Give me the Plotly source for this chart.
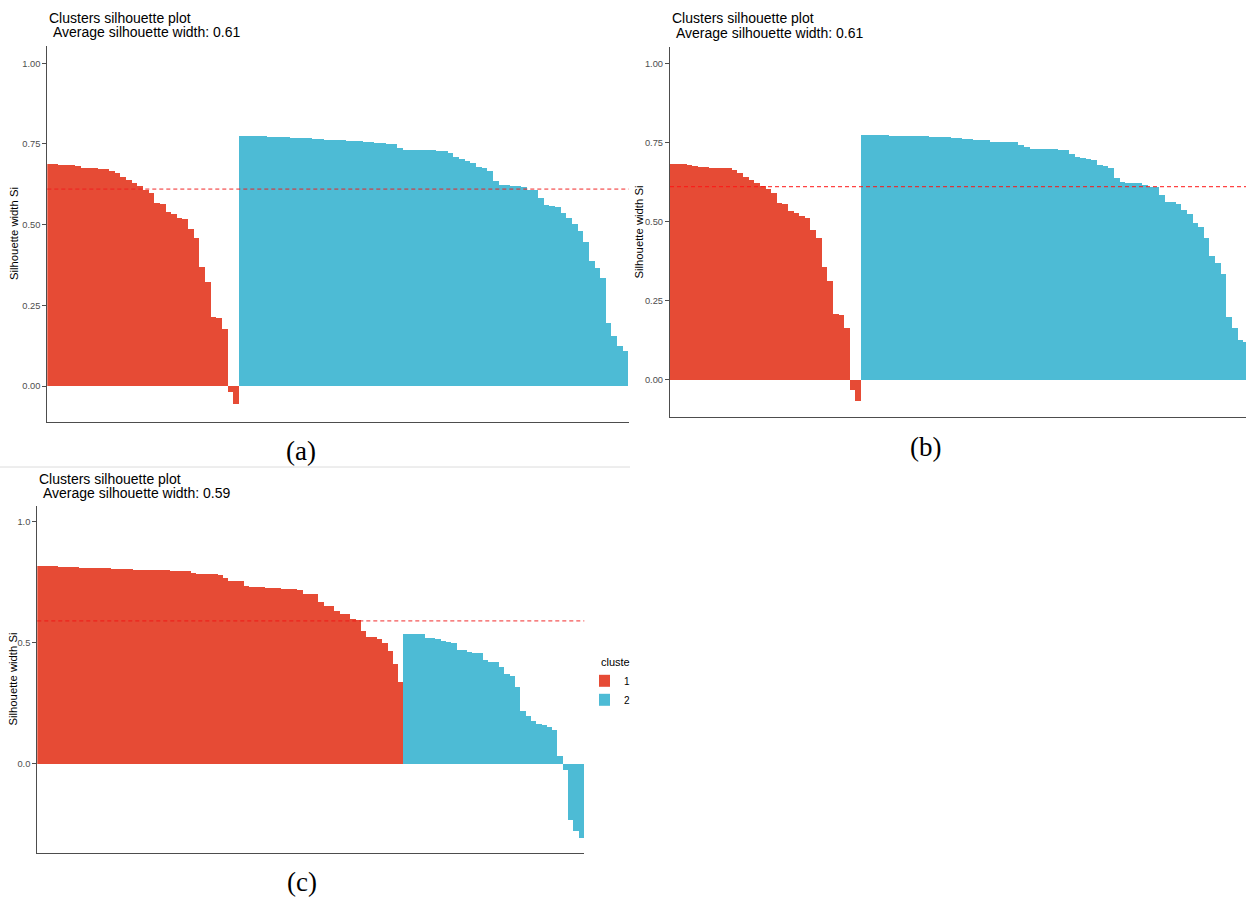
import plotly.graph_objects as go

# ---------------- data (silhouette widths, sorted within cluster) ----------------
a_cluster1 = [0.687, 0.687, 0.685, 0.685, 0.683, 0.680, 0.676, 0.675, 0.675, 0.673,
              0.672, 0.665, 0.658, 0.648, 0.639, 0.627, 0.620, 0.608, 0.597, 0.566,
              0.563, 0.538, 0.533, 0.521, 0.518, 0.485, 0.457, 0.369, 0.322, 0.213,
              0.211, 0.175, -0.019, -0.057]
a_cluster2 = [0.774, 0.774, 0.773, 0.773, 0.773, 0.771, 0.771, 0.771, 0.771, 0.769,
              0.769, 0.769, 0.769, 0.765, 0.765, 0.761, 0.761, 0.761, 0.761, 0.759,
              0.759, 0.759, 0.756, 0.756, 0.752, 0.752, 0.749, 0.749, 0.736, 0.732,
              0.732, 0.732, 0.732, 0.730, 0.730, 0.727, 0.727, 0.720, 0.710, 0.704,
              0.697, 0.691, 0.677, 0.674, 0.667, 0.636, 0.621, 0.621, 0.618, 0.618,
              0.616, 0.608, 0.607, 0.581, 0.559, 0.558, 0.553, 0.536, 0.521, 0.500,
              0.479, 0.447, 0.386, 0.364, 0.334, 0.194, 0.154, 0.123, 0.107]
a_avg = 0.61

b_cluster1 = [0.683, 0.683, 0.683, 0.680, 0.677, 0.674, 0.674, 0.670, 0.670, 0.670,
              0.670, 0.664, 0.655, 0.643, 0.634, 0.623, 0.615, 0.604, 0.593, 0.560,
              0.557, 0.534, 0.528, 0.518, 0.512, 0.476, 0.450, 0.359, 0.312, 0.208,
              0.206, 0.166, -0.030, -0.065]
b_cluster2 = [0.774, 0.774, 0.774, 0.774, 0.774, 0.772, 0.772, 0.772, 0.771, 0.771,
              0.771, 0.771, 0.770, 0.770, 0.767, 0.767, 0.765, 0.765, 0.763, 0.763,
              0.760, 0.760, 0.760, 0.754, 0.754, 0.754, 0.754, 0.754, 0.744, 0.736,
              0.732, 0.732, 0.732, 0.732, 0.730, 0.727, 0.727, 0.714, 0.705, 0.701,
              0.698, 0.696, 0.680, 0.676, 0.670, 0.640, 0.626, 0.624, 0.624, 0.622,
              0.618, 0.612, 0.612, 0.585, 0.563, 0.562, 0.556, 0.538, 0.525, 0.498,
              0.485, 0.450, 0.393, 0.369, 0.336, 0.200, 0.166, 0.128, 0.120]
b_avg = 0.61

c_cluster1 = [0.815, 0.815, 0.815, 0.815, 0.811, 0.811, 0.811, 0.811, 0.809, 0.809,
              0.809, 0.809, 0.809, 0.809, 0.806, 0.806, 0.806, 0.806, 0.802, 0.802,
              0.802, 0.802, 0.802, 0.802, 0.799, 0.796, 0.796, 0.796, 0.796, 0.787,
              0.782, 0.782, 0.782, 0.782, 0.780, 0.767, 0.756, 0.756, 0.756, 0.734,
              0.731, 0.731, 0.731, 0.727, 0.727, 0.727, 0.723, 0.723, 0.723, 0.719,
              0.702, 0.700, 0.700, 0.668, 0.650, 0.650, 0.632, 0.617, 0.617, 0.596,
              0.592, 0.550, 0.522, 0.522, 0.515, 0.497, 0.464, 0.412, 0.339]
c_cluster2 = [0.537, 0.534, 0.534, 0.534, 0.519, 0.519, 0.515, 0.507, 0.503, 0.500,
              0.471, 0.471, 0.461, 0.456, 0.456, 0.428, 0.421, 0.421, 0.398, 0.371,
              0.362, 0.315, 0.218, 0.197, 0.175, 0.164, 0.160, 0.152, 0.139, 0.030,
              -0.025, -0.234, -0.277, -0.306]
c_avg = 0.59

cluster_names = ["1", "2"]
panel_labels = ["(a)", "(b)", "(c)"]
title_line1 = "Clusters silhouette plot"
ylabel = "Silhouette width Si"
legend_title = "cluste"

# ---------------- styling ----------------
W, H = 1246, 897
RED = "#E64B35"
CYAN = "#4DBBD5"
AXIS = "#4d4d4d"
FONT = "Liberation Sans"


def fx(p):
    return p / W


def fy(p):
    return 1 - p / H


fig = go.Figure()

panels = [
    dict(c1=a_cluster1, c2=a_cluster2, avg=a_avg, ax="", legend=False,
         xdom=(47.3, 628.7), ydom=(421.5, 46.2), yr=(-0.110, 1.053), xr_end=None,
         dtick=0.25, fmt=".2f", hcolor="rgba(240,30,30,0.55)", hwidth=1.6),
    dict(c1=b_cluster1, c2=b_cluster2, avg=b_avg, ax="2", legend=False,
         xdom=(670.0, 1246.0), ydom=(417.0, 46.5), yr=(-0.118, 1.053), xr_end=102.0,
         dtick=0.25, fmt=".2f", hcolor="rgba(255,20,20,0.8)", hwidth=1.2),
    dict(c1=c_cluster1, c2=c_cluster2, avg=c_avg, ax="3", legend=True,
         xdom=(37.3, 584.3), ydom=(853.4, 506.0), yr=(-0.371, 1.065), xr_end=None,
         dtick=0.5, fmt=".1f", hcolor="rgba(240,20,20,0.9)", hwidth=1.0),
]

shapes = []
for p in panels:
    n1, n2 = len(p["c1"]), len(p["c2"])
    xa = "x" + p["ax"]
    ya = "y" + p["ax"]
    for name, vals, col, start in ((cluster_names[0], p["c1"], RED, 0),
                                   (cluster_names[1], p["c2"], CYAN, n1)):
        fig.add_trace(go.Bar(
            x=list(range(start, start + len(vals))), y=vals, name=name,
            marker=dict(color=col, line=dict(width=0)),
            width=1.0, xaxis=xa, yaxis=ya, showlegend=p["legend"],
            legendgroup=name))
    xr_end = p["xr_end"] if p["xr_end"] is not None else n1 + n2 - 0.5
    fig.update_layout(**{
        "xaxis" + p["ax"]: dict(
            domain=[fx(p["xdom"][0]), fx(p["xdom"][1])], range=[-0.5, xr_end],
            anchor=ya, showline=True, linecolor=AXIS, linewidth=1.2,
            showticklabels=False, ticks="", showgrid=False, zeroline=False,
            fixedrange=True),
        "yaxis" + p["ax"]: dict(
            domain=[fy(p["ydom"][0]), fy(p["ydom"][1])], range=list(p["yr"]),
            anchor=xa, showline=True, linecolor=AXIS, linewidth=1.2,
            ticks="outside", ticklen=4, tickcolor=AXIS, tickwidth=1,
            tick0=0, dtick=p["dtick"], tickformat=p["fmt"],
            tickfont=dict(family=FONT, size=9.3, color="#4D4D4D"),
            showgrid=False, zeroline=False, fixedrange=True),
    })
    shapes.append(dict(type="line", xref=xa + " domain", yref=ya,
                       x0=0, x1=1, y0=p["avg"], y1=p["avg"],
                       line=dict(color=p["hcolor"], width=p["hwidth"], dash="4px,3px"),
                       layer="above"))

# thin separator line between the rows of the composite figure
shapes.append(dict(type="line", xref="paper", yref="paper",
                   x0=0, x1=fx(630), y0=fy(467), y1=fy(467),
                   line=dict(color="#dcdcdc", width=1)))

annotations = []
title_pos = [  # (x line1, y mid line1, x line2, y mid line2)
    (47.0, 17.8, 51.0, 32.4),
    (670.0, 18.4, 674.0, 32.8),
    (36.7, 479.4, 40.7, 493.4),
]
avgs = [a_avg, b_avg, c_avg]
for (x1, y1, x2, y2), avg in zip(title_pos, avgs):
    annotations.append(dict(text=title_line1, x=fx(x1), y=fy(y1), xref="paper", yref="paper",
                            xanchor="left", yanchor="middle", showarrow=False,
                            font=dict(family=FONT, size=14, color="black")))
    annotations.append(dict(text="Average silhouette width: %.2f" % avg, x=fx(x2), y=fy(y2),
                            xref="paper", yref="paper", xanchor="left", yanchor="middle",
                            showarrow=False, font=dict(family=FONT, size=14, color="black")))

for (xc, yc) in [(13.5, 233.5), (638.5, 232.0), (12.0, 679.5)]:
    annotations.append(dict(text=ylabel, x=fx(xc), y=fy(yc), xref="paper", yref="paper",
                            xanchor="center", yanchor="middle", textangle=-90, showarrow=False,
                            font=dict(family=FONT, size=11.3, color="black")))

for lab, (xc, yc) in zip(panel_labels, [(301, 451), (925, 447.5), (302, 882)]):
    annotations.append(dict(text=lab, x=fx(xc), y=fy(yc), xref="paper", yref="paper",
                            xanchor="center", yanchor="middle", showarrow=False,
                            font=dict(family="Liberation Serif", size=27, color="black")))

fig.update_layout(
    width=W, height=H, margin=dict(l=0, r=0, t=0, b=0), autosize=False,
    paper_bgcolor="white", plot_bgcolor="white",
    barmode="overlay", bargap=0,
    shapes=shapes, annotations=annotations,
    showlegend=True,
    legend=dict(x=fx(599), y=fy(652), xanchor="left", yanchor="top",
                title=dict(text=legend_title, font=dict(family=FONT, size=11, color="black")),
                font=dict(family=FONT, size=10, color="black"),
                indentation=-15,
                bgcolor="rgba(0,0,0,0)", tracegroupgap=0, itemwidth=30),
)

fig.write_html("out.html")
